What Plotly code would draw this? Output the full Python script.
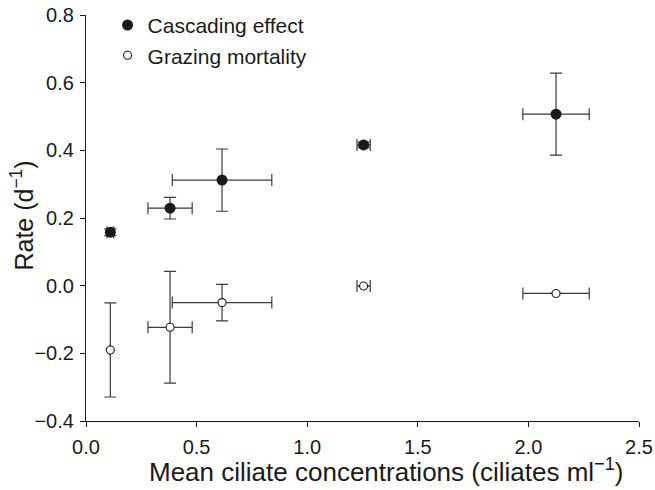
import plotly.graph_objects as go

# Data
ciliate_conc = [0.11, 0.38, 0.615, 1.255, 2.125]
ciliate_err = [0.015, 0.10, 0.225, 0.03, 0.15]

cascade_rate = [0.158, 0.229, 0.312, 0.416, 0.507]
cascade_err = [0.01, 0.032, 0.092, 0.008, 0.121]

grazing_conc_err = [None, 0.10, 0.225, 0.03, 0.15]
grazing_rate = [-0.19, -0.123, -0.050, -0.001, -0.023]
grazing_err = [0.139, 0.165, 0.054, None, None]

x_ticks = [0.0, 0.5, 1.0, 1.5, 2.0, 2.5]
y_ticks = [-0.4, -0.2, 0.0, 0.2, 0.4, 0.6, 0.8]

x_title = "Mean ciliate concentrations (ciliates ml<sup>−1</sup>)"
y_title = "Rate (d<sup>−1</sup>)"

FONT = "Liberation Sans, Arial, Helvetica, sans-serif"
INK = "#1a1a1a"
BAR = "#3a3a3a"

fig = go.Figure()

fig.add_trace(go.Scatter(
    x=ciliate_conc, y=cascade_rate, mode="markers", name="Cascading effect",
    marker=dict(symbol="circle", size=11, color=INK, line=dict(width=0)),
    error_x=dict(type="data", array=ciliate_err, visible=True, color=BAR, thickness=1.2, width=6),
    error_y=dict(type="data", array=cascade_err, visible=True, color=BAR, thickness=1.2, width=6),
))

fig.add_trace(go.Scatter(
    x=ciliate_conc, y=grazing_rate, mode="markers", name="Grazing mortality",
    marker=dict(symbol="circle", size=8, color="white", line=dict(width=1.1, color=INK)),
    error_x=dict(type="data", array=grazing_conc_err, visible=True, color=BAR, thickness=1.2, width=6),
    error_y=dict(type="data", array=grazing_err, visible=True, color=BAR, thickness=1.2, width=6),
))

fig.update_layout(
    width=655, height=490,
    margin=dict(l=86, r=16, t=15, b=69, autoexpand=False),
    paper_bgcolor="white", plot_bgcolor="white",
    font=dict(family=FONT, size=20, color=INK),
    showlegend=True,
    legend=dict(x=0.039, y=1.025, xanchor="left", yanchor="top",
                bgcolor="rgba(0,0,0,0)", font=dict(size=21, color=INK),
                tracegroupgap=0),
    xaxis=dict(
        range=[0, 2.5], tickvals=x_ticks, tickformat=".1f", automargin=False,
        showgrid=False, zeroline=False, showline=True, linecolor=INK, linewidth=1.2,
        ticks="outside", ticklen=5, tickwidth=1.2, tickcolor=INK,
        ticklabelstandoff=3, tickfont=dict(size=20),
    ),
    yaxis=dict(
        range=[-0.4, 0.8], tickvals=y_ticks, tickformat=".1f", automargin=False,
        showgrid=False, zeroline=False, showline=True, linecolor=INK, linewidth=1.2,
        ticks="outside", ticklen=5, tickwidth=1.2, tickcolor=INK,
        ticklabelstandoff=2, tickfont=dict(size=20),
    ),
    annotations=[
        dict(text=x_title, xref="paper", yref="paper", x=0.544, y=-0.122,
             xanchor="center", yanchor="middle", showarrow=False,
             font=dict(size=26, color=INK)),
        dict(text=y_title, xref="paper", yref="paper", x=-0.1157, y=0.506,
             xanchor="center", yanchor="middle", textangle=-90, showarrow=False,
             font=dict(size=25, color=INK)),
    ],
)

fig.write_html("out.html")
